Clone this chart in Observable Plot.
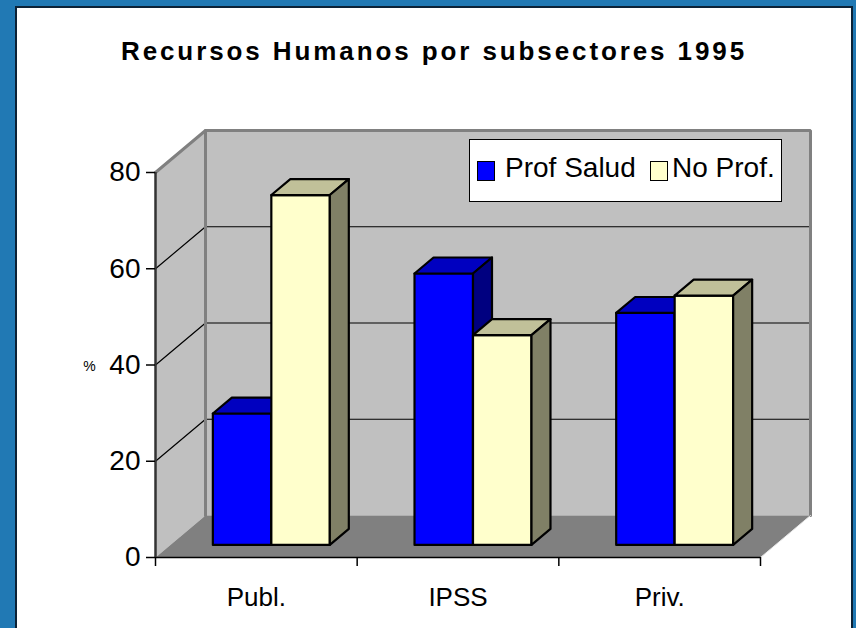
<!DOCTYPE html>
<html>
<head>
<meta charset="utf-8">
<script src="https://cdn.jsdelivr.net/npm/d3@7"></script>
<script src="https://cdn.jsdelivr.net/npm/@observablehq/plot@0.6"></script>
<style>
  html, body { margin: 0; padding: 0; }
  body { width: 856px; height: 628px; background: #2179b4; position: relative; overflow: hidden;
         font-family: "Liberation Sans", Arial, sans-serif; }
  #box { position: absolute; left: 15px; top: 6px; width: 834px; height: 640px;
         background: #fff; border: 2px solid #0c2236; }
  #title { height: 88px; box-sizing: border-box; padding-top: 30px; text-align: center;
           font-weight: bold; font-size: 26px; line-height: 26px; letter-spacing: 2.9px; color: #000; }
  #chart svg { display: block; }
  #legend { position: absolute; left: 452px; top: 131px; width: 313px; height: 63px;
            border: 1px solid #000; background: #fff; box-sizing: border-box; }
  .sw { position: absolute; top: 21px; width: 16px; height: 18px; border: 1.5px solid #000; }
  .lt { position: absolute; top: 12px; font-size: 28px; line-height: 32px; color: #000; white-space: nowrap; }
</style>
</head>
<body>
<div id="box">
  <div id="title">Recursos Humanos por subsectores 1995</div>
  <div id="chart"></div>
  <div id="legend"></div>
</div>
<script>
// ---- data ----
const categories = ["Publ.", "IPSS", "Priv."];
const series = ["Prof Salud", "No Prof."];
const profSalud = [27.3, 56.4, 48.2];
const noProf = [72.7, 43.6, 51.8];
const yTicks = [0, 20, 40, 60, 80];
const yLabel = "%";

// ---- styles / layout ----
const W = 834, H = 532, mL = 138, mR = 91, mT = 76, mB = 71;
const yMax = 80;
const pxPerX = (W - mL - mR) / categories.length;
const pxPerY = (H - mT - mB) / yMax;
const DX = 50 / pxPerX;   // wall depth in x data units
const DY = 42 / pxPerY;   // wall depth in y data units
const fFront = 0.3, fBack = 0.68;      // bar depth range (fraction of wall depth)
const barStart = 0.21, barW = 0.29;    // within category band
const colors = {
  "Prof Salud": {front: "#0000ff", top: "#0000c0", side: "#000080"},
  "No Prof.": {front: "#ffffcc", top: "#c0c099", side: "#808066"}
};
const P = (x, y, d) => ({x: x + d * DX, y: y + d * DY});

// ---- build geometry from data ----
const valuesBySeries = {"Prof Salud": profSalud, "No Prof.": noProf};
const barPts = [];
let fid = 0;
categories.forEach((c, i) => {
  series.forEach((s, j) => {
    const v = valuesBySeries[s][i];
    const x0 = i + barStart + j * barW, x1 = x0 + barW;
    const faces = [
      ["front", [P(x0, 0, fFront), P(x1, 0, fFront), P(x1, v, fFront), P(x0, v, fFront)]],
      ["top", [P(x0, v, fFront), P(x1, v, fFront), P(x1, v, fBack), P(x0, v, fBack)]],
      ["side", [P(x1, 0, fFront), P(x1, v, fFront), P(x1, v, fBack), P(x1, 0, fBack)]]
    ];
    faces.forEach(([k, pts]) => {
      const id = "f" + (fid++);
      pts.concat([pts[0]]).forEach(p => barPts.push({id, color: colors[s][k], x: p.x, y: p.y}));
    });
  });
});

const n = categories.length;
function poly(id, color, pts) { return pts.concat([pts[0]]).map(p => ({id, color, x: p.x, y: p.y})); }
const walls = [
  ...poly("back", "#c0c0c0", [P(0, 0, 1), P(n, 0, 1), P(n, yMax, 1), P(0, yMax, 1)]),
  ...poly("left", "#c0c0c0", [P(0, 0, 0), P(0, yMax, 0), P(0, yMax, 1), P(0, 0, 1)]),
  ...poly("floor", "#808080", [P(0, 0, 0), P(n, 0, 0), P(n, 0, 1), P(0, 0, 1)])
];
const gridInner = yTicks.filter(t => t > 0 && t < yMax);
const gridSegs = [];
gridInner.forEach(t => {
  [P(0, t, 0), P(0, t, 1), P(n, t, 1)].forEach(p => gridSegs.push({id: "g" + t, x: p.x, y: p.y}));
});
const edgeSegs = [
  ...[P(0, yMax, 0), P(0, yMax, 1), P(n, yMax, 1), P(n, 0, 1)].map(p => ({id: "e1", ...p})),
  ...[P(0, 0, 1), P(0, yMax, 1)].map(p => ({id: "e2", ...p}))
];
const floorEdge = [P(n, 0, 0), P(n, 0, 1)];
const xTicks = d3.range(n + 1);
const catPos = categories.map((c, i) => ({c, x: i + 0.5}));
const tickLenX = 9 / pxPerX, tickLenY = 9 / pxPerY;

const chart = Plot.plot({
  width: W, height: H,
  marginLeft: mL, marginRight: mR, marginTop: mT, marginBottom: mB,
  x: {domain: [0, n], axis: null},
  y: {domain: [0, yMax], axis: null},
  color: {type: "identity"},
  style: {fontFamily: "'Liberation Sans', Arial, sans-serif", background: "transparent", overflow: "visible"},
  marks: [
    Plot.line(walls, {x: "x", y: "y", z: "id", fill: "color", stroke: null, curve: "linear"}),
    Plot.line(gridSegs, {x: "x", y: "y", z: "id", stroke: "#000", strokeWidth: 1.2}),
    Plot.line(edgeSegs, {x: "x", y: "y", z: "id", stroke: "#808080", strokeWidth: 3, strokeLinejoin: "miter"}),
    Plot.line(floorEdge, {x: "x", y: "y", stroke: "#e8e8e8", strokeWidth: 1}),
    // axes
    Plot.ruleY([0], {x1: 0, x2: n, stroke: "#000", strokeWidth: 1.5}),
    Plot.ruleX(xTicks, {x: d => d, y1: 0, y2: -tickLenY, stroke: "#000", strokeWidth: 1.5}),
    Plot.ruleX([0], {y1: 0, y2: yMax, stroke: "#333", strokeWidth: 2.5}),
    Plot.ruleY(yTicks, {y: d => d, x1: -tickLenX, x2: 0, stroke: "#000", strokeWidth: 1.5}),
    Plot.text(yTicks, {x: 0, y: d => d, text: d => String(d), dx: -15, textAnchor: "end", fontSize: 28, fill: "#000"}),
    Plot.text([yLabel], {x: 0, y: 40, text: d => d, dx: -66, dy: 2, fontSize: 14, fill: "#000"}),
    Plot.text(catPos, {x: "x", y: 0, text: "c", dy: 40, fontSize: 26, fill: "#000"}),
    // bars
    Plot.line(barPts, {x: "x", y: "y", z: "id", fill: "color", stroke: "#000", strokeWidth: 2.2, strokeLinejoin: "round"})
  ]
});
document.getElementById("chart").appendChild(chart);

// legend
const legend = document.getElementById("legend");
const legendPos = [{sw: 7, tx: 35}, {sw: 180, tx: 202}];
series.forEach((s, j) => {
  const sw = document.createElement("div");
  sw.className = "sw";
  sw.style.left = legendPos[j].sw + "px";
  sw.style.background = colors[s].front;
  legend.appendChild(sw);
  const t = document.createElement("div");
  t.className = "lt";
  t.style.left = legendPos[j].tx + "px";
  t.textContent = s;
  legend.appendChild(t);
});
</script>
</body>
</html>
